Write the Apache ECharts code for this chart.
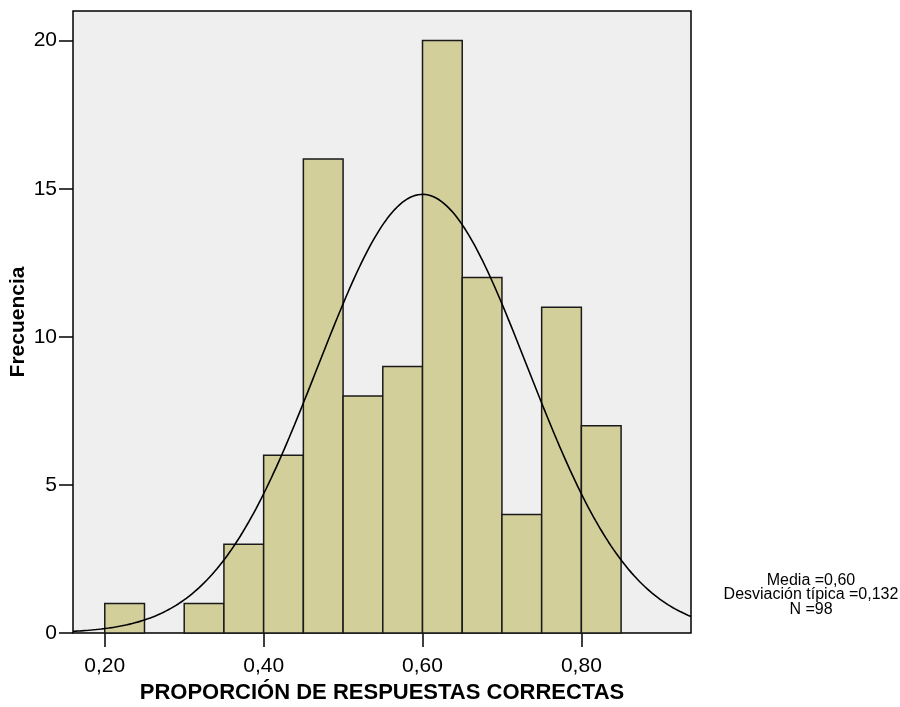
<!DOCTYPE html>
<html>
<head>
<meta charset="utf-8">
<script src="https://cdn.jsdelivr.net/npm/echarts@6/dist/echarts.min.js"></script>
<style>
  html, body { margin: 0; padding: 0; background: #ffffff; }
  #chart { width: 900px; height: 707px; }
</style>
</head>
<body>
<div id="chart"></div>
<script>
// Histogram bins (lower edge, upper edge) and their frequencies
const binStarts = [0.20, 0.25, 0.30, 0.35, 0.40, 0.45, 0.50, 0.55, 0.60, 0.65, 0.70, 0.75, 0.80];
const binEnds   = [0.25, 0.30, 0.35, 0.40, 0.45, 0.50, 0.55, 0.60, 0.65, 0.70, 0.75, 0.80, 0.85];
const counts    = [1, 0, 1, 3, 6, 16, 8, 9, 20, 12, 4, 11, 7];

// Tick positions and labels
const xTicks = [0.20, 0.40, 0.60, 0.80];
const xTickLabels = ['0,20', '0,40', '0,60', '0,80'];
const yTicks = [0, 5, 10, 15, 20];

// Summary statistics shown beside the plot
const mean = 0.60;
const sd = 0.132;
const n = 98;
const binWidth = 0.05;

const xMin = 0.16, xMax = 0.938;

// Fitted normal curve scaled to the histogram counts
const curve = [];
const steps = 240;
for (let i = 0; i <= steps; i++) {
  const x = xMin + (xMax - xMin) * i / steps;
  const z = (x - mean) / sd;
  const y = n * binWidth / (sd * Math.sqrt(2 * Math.PI)) * Math.exp(-0.5 * z * z);
  curve.push([x, y]);
}

const bars = binStarts.map((s, i) => [s, binEnds[i], counts[i]]).filter(d => d[2] > 0);

const font = '"Liberation Sans", Arial, Helvetica, sans-serif';

const chart = echarts.init(document.getElementById('chart'), null, { renderer: 'canvas' });
chart.setOption({
  animation: false,
  backgroundColor: '#ffffff',
  grid: {
    left: 73, top: 11, right: 209, bottom: 74,
    containLabel: false,
    outerBoundsMode: 'none',
    show: true,
    backgroundColor: '#efefef',
    borderColor: '#000000',
    borderWidth: 1.5
  },
  xAxis: {
    type: 'value',
    min: xMin,
    max: xMax,
    splitLine: { show: false },
    axisLine: { show: false },
    axisTick: {
      show: true,
      customValues: xTicks,
      length: 14,
      lineStyle: { color: '#000', width: 1.5 }
    },
    axisLabel: {
      customValues: xTicks,
      formatter: v => xTickLabels[xTicks.findIndex(t => Math.abs(t - v) < 1e-6)] || '',
      color: '#000',
      fontFamily: font,
      fontSize: 21,
      margin: 23
    },
    name: 'PROPORCIÓN DE RESPUESTAS CORRECTAS',
    nameLocation: 'middle',
    nameGap: 49,
    nameMoveOverlap: false,
    nameTextStyle: { color: '#000', fontFamily: font, fontSize: 22, fontWeight: 'bold' }
  },
  yAxis: {
    type: 'value',
    min: 0,
    max: 21,
    interval: 5,
    splitLine: { show: false },
    axisLine: { show: false },
    axisTick: {
      show: true,
      customValues: yTicks,
      length: 14,
      lineStyle: { color: '#000', width: 1.5 }
    },
    axisLabel: {
      customValues: yTicks,
      color: '#000',
      fontFamily: font,
      fontSize: 21,
      margin: 16
    },
    name: 'Frecuencia',
    nameLocation: 'middle',
    nameGap: 44,
    nameRotate: 90,
    nameMoveOverlap: false,
    nameTextStyle: { color: '#000', fontFamily: font, fontSize: 21, fontWeight: 'bold' }
  },
  series: [
    {
      type: 'custom',
      data: bars,
      renderItem: function (params, api) {
        const p0 = api.coord([api.value(0), api.value(2)]);
        const p1 = api.coord([api.value(1), 0]);
        return {
          type: 'rect',
          shape: { x: p0[0], y: p0[1], width: p1[0] - p0[0], height: p1[1] - p0[1] },
          style: { fill: '#d3cf9b', stroke: '#1a1a1a', lineWidth: 1.5 }
        };
      },
      z: 2
    },
    {
      type: 'line',
      data: curve,
      showSymbol: false,
      symbol: 'none',
      smooth: false,
      lineStyle: { color: '#000', width: 1.6 },
      z: 3
    }
  ],
  graphic: [
    {
      type: 'text',
      x: 811, y: 595,
      style: {
        text: 'Media =0,60\nDesviación típica =0,132\nN =98',
        align: 'center',
        verticalAlign: 'middle',
        fill: '#000',
        font: '16px ' + font,
        lineHeight: 14.5
      }
    }
  ]
});
</script>
</body>
</html>
